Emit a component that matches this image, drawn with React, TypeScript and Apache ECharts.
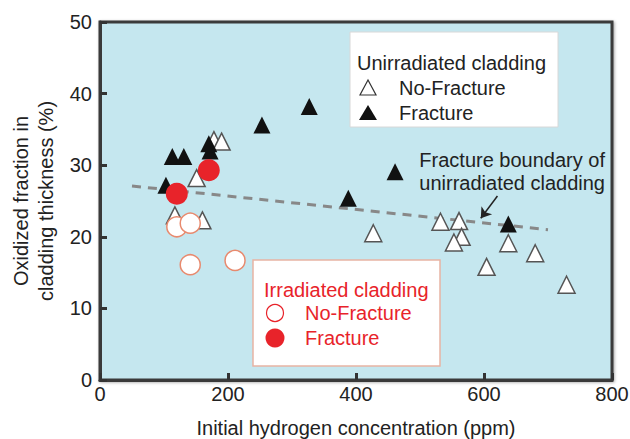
import React, { useEffect, useRef } from "react";
import * as echarts from "echarts";

const xTicks = [0, 200, 400, 600, 800];
const yTicks = [0, 10, 20, 30, 40, 50];

const unirrNoFracture: [number, number][] = [
  [117, 23.0], [160, 22.3], [151, 28.2], [178, 33.5], [190, 33.3],
  [427, 20.5], [532, 22.1], [561, 22.2], [565, 20.0], [553, 19.2],
  [638, 19.1], [680, 17.7], [604, 15.8], [729, 13.3],
];
const unirrFracture: [number, number][] = [
  [103, 27.2], [113, 31.2], [131, 31.2], [172, 32.0], [170, 33.0],
  [253, 35.6], [327, 38.2], [461, 29.1], [388, 25.4], [638, 21.8],
];
const irrNoFracture: [number, number][] = [
  [120, 21.4], [141, 21.9], [141, 16.1], [211, 16.7],
];
const irrFracture: [number, number][] = [
  [120, 26.0], [170, 29.3],
];
const boundary: [number, number][] = [
  [50, 27.1], [700, 21.0],
];
const arrow: [number, number][] = [
  [621, 25.7], [595, 22.6],
];

const FONT = "'Liberation Sans', Arial, sans-serif";
const RED = "#e8232a";
const FS = 20;

export default function App() {
  const ref = useRef<HTMLDivElement>(null);
  useEffect(() => {
    document.body.style.margin = "0";
    if (!ref.current) return;
    const chart = echarts.init(ref.current, null, { renderer: "svg" });
    const txt = (x: number, y: number, text: string, fill: string, align = "left") => ({
      type: "text", x, y, z: 11,
      style: { text, fill, font: `${FS}px ${FONT}`, textAlign: align, textVerticalAlign: "middle" },
    });
    chart.setOption({
      animation: false,
      textStyle: { fontFamily: FONT },
      grid: {
        left: 100, top: 22, right: 18, bottom: 59,
        outerBoundsMode: "none", containLabel: false,
        show: true, backgroundColor: "#c5e7ef", borderColor: "#3a3a3a", borderWidth: 3,
        shadowColor: "rgba(0,0,0,0.35)", shadowBlur: 3, shadowOffsetX: 1, shadowOffsetY: 1,
      },
      xAxis: {
        type: "value", min: xTicks[0], max: xTicks[xTicks.length - 1], interval: 200,
        name: "Initial hydrogen concentration (ppm)", nameLocation: "middle", nameGap: 38,
        nameTextStyle: { fontSize: FS, color: "#222", fontFamily: FONT },
        axisLine: { show: true, lineStyle: { color: "#3a3a3a", width: 3 } },
        axisTick: { show: true, inside: true, length: 7, lineStyle: { color: "#333", width: 3 } },
        axisLabel: { fontSize: FS, color: "#222", margin: 4, fontFamily: FONT },
        splitLine: { show: false },
      },
      yAxis: {
        type: "value", min: yTicks[0], max: yTicks[yTicks.length - 1], interval: 10,
        name: "Oxidized fraction in\ncladding thickness (%)", nameLocation: "middle", nameGap: 40,
        nameTextStyle: { fontSize: FS, color: "#222", fontFamily: FONT, lineHeight: 25 },
        axisLine: { show: true, lineStyle: { color: "#3a3a3a", width: 3 } },
        axisTick: { show: true, inside: true, length: 7, lineStyle: { color: "#333", width: 3 } },
        axisLabel: { fontSize: FS, color: "#222", margin: 8, fontFamily: FONT },
        splitLine: { show: false },
      },
      series: [
        {
          type: "line", data: boundary, symbol: "none", silent: true,
          lineStyle: { color: "#888", width: 3, type: [9, 7] },
          markLine: {
            silent: true, symbol: ["none", "arrow"], symbolSize: 10, label: { show: false },
            lineStyle: { color: "#222", width: 1.5, type: "solid" },
            data: [[{ coord: arrow[0] }, { coord: arrow[1] }]],
          },
          z: 2,
        },
        {
          type: "scatter", data: unirrNoFracture, symbol: "triangle", symbolSize: 17,
          itemStyle: { color: "#ffffff", borderColor: "#555", borderWidth: 1.5, opacity: 1 }, z: 3,
        },
        {
          type: "scatter", data: unirrFracture, symbol: "triangle", symbolSize: 17,
          itemStyle: { color: "#111", opacity: 1 }, z: 4,
        },
        {
          type: "scatter", data: irrNoFracture, symbol: "circle", symbolSize: 20,
          itemStyle: { color: "#ffffff", borderColor: "#e88a6e", borderWidth: 1.5, opacity: 1 }, z: 3,
        },
        {
          type: "scatter", data: irrFracture, symbol: "circle", symbolSize: 22,
          itemStyle: { color: RED, opacity: 1 }, z: 5,
        },
      ],
      graphic: [
        {
          type: "rect", shape: { x: 350, y: 32, width: 208, height: 95 }, z: 10,
          style: { fill: "#ffffff", stroke: "#d8d8d8", lineWidth: 1 },
        },
        txt(357, 63, "Unirradiated cladding", "#222"),
        { type: "polygon", z: 11, shape: { points: [[368, 80], [360, 95], [376, 95]] }, style: { fill: "#fff", stroke: "#333", lineWidth: 1.2 } },
        txt(399, 88, "No-Fracture", "#222"),
        { type: "polygon", z: 11, shape: { points: [[368, 105], [359, 120], [377, 120]] }, style: { fill: "#111" } },
        txt(399, 113, "Fracture", "#222"),

        {
          type: "rect", shape: { x: 253, y: 260, width: 187, height: 106 }, z: 10,
          style: { fill: "#ffffff", stroke: "#e8b4a4", lineWidth: 1.5 },
        },
        txt(264, 290, "Irradiated cladding", RED),
        { type: "circle", z: 11, shape: { cx: 275, cy: 313, r: 8.5 }, style: { fill: "#fff", stroke: RED, lineWidth: 1.2 } },
        txt(305, 313, "No-Fracture", RED),
        { type: "circle", z: 11, shape: { cx: 275, cy: 338, r: 9.5 }, style: { fill: RED } },
        txt(305, 338, "Fracture", RED),

        txt(605, 160, "Fracture boundary of", "#222", "right"),
        txt(605, 183, "unirradiated cladding", "#222", "right"),
      ],
    });
    return () => chart.dispose();
  }, []);
  return <div ref={ref} style={{ width: 630, height: 439 }} />;
}
